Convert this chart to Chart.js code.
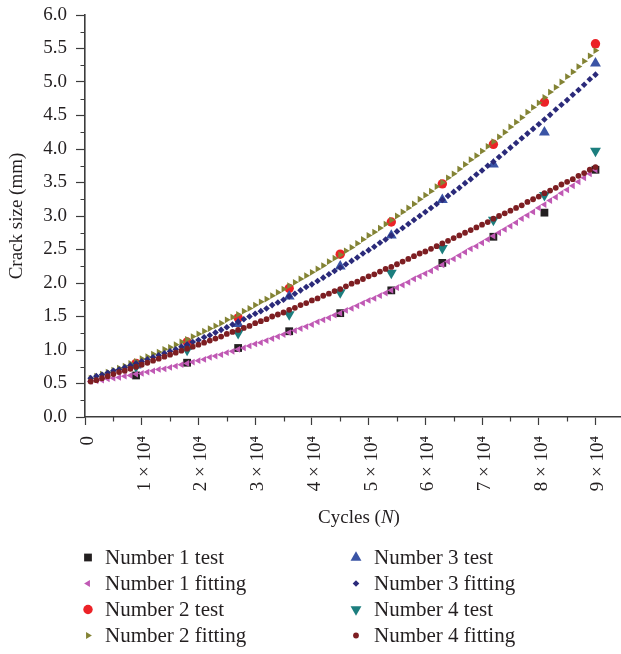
<!DOCTYPE html>
<html>
<head>
<meta charset="utf-8">
<script src="https://cdn.jsdelivr.net/npm/chart.js@4.4.1/dist/chart.umd.min.js"></script>
<style>
  html, body { margin: 0; padding: 0; background: #ffffff; }
  canvas { display: block; }
</style>
</head>
<body>
<canvas id="crackChart" width="621" height="654"></canvas>
<script>
// Cycles at which crack size was measured
const testCycles = [9000, 18000, 27000, 36000, 45000, 54000, 63000, 72000, 81000, 90000];

// Cycles of the fitted crack-growth curves
const fitCycles = [
  1000, 2000, 3000, 4000, 5000, 6000, 7000, 8000, 9000, 10000,
  11000, 12000, 13000, 14000, 15000, 16000, 17000, 18000, 19000, 20000,
  21000, 22000, 23000, 24000, 25000, 26000, 27000, 28000, 29000, 30000,
  31000, 32000, 33000, 34000, 35000, 36000, 37000, 38000, 39000, 40000,
  41000, 42000, 43000, 44000, 45000, 46000, 47000, 48000, 49000, 50000,
  51000, 52000, 53000, 54000, 55000, 56000, 57000, 58000, 59000, 60000,
  61000, 62000, 63000, 64000, 65000, 66000, 67000, 68000, 69000, 70000,
  71000, 72000, 73000, 74000, 75000, 76000, 77000, 78000, 79000, 80000,
  81000, 82000, 83000, 84000, 85000, 86000, 87000, 88000, 89000, 90000
];

// Measured crack size (mm)
const n1Test = [0.62, 0.81, 1.03, 1.28, 1.55, 1.89, 2.30, 2.69, 3.05, 3.69];
const n2Test = [0.80, 1.12, 1.48, 1.92, 2.43, 2.91, 3.48, 4.07, 4.70, 5.57];
const n3Test = [0.77, 1.05, 1.39, 1.80, 2.25, 2.71, 3.24, 3.77, 4.25, 5.28];
const n4Test = [0.75, 1.00, 1.25, 1.53, 1.86, 2.15, 2.52, 2.94, 3.31, 3.97];

// Fitted crack size (mm)
const n1Fit = [
  0.53, 0.54, 0.55, 0.57, 0.58, 0.59, 0.61, 0.62, 0.64, 0.65,
  0.67, 0.69, 0.71, 0.72, 0.74, 0.76, 0.78, 0.80, 0.82, 0.84,
  0.86, 0.89, 0.91, 0.93, 0.96, 0.98, 1.01, 1.03, 1.06, 1.09,
  1.11, 1.14, 1.17, 1.20, 1.23, 1.26, 1.29, 1.32, 1.35, 1.38,
  1.42, 1.45, 1.48, 1.52, 1.55, 1.59, 1.62, 1.66, 1.70, 1.74,
  1.77, 1.81, 1.85, 1.89, 1.93, 1.97, 2.01, 2.06, 2.10, 2.14,
  2.18, 2.23, 2.27, 2.32, 2.36, 2.41, 2.46, 2.51, 2.55, 2.60,
  2.65, 2.70, 2.75, 2.80, 2.85, 2.90, 2.96, 3.01, 3.06, 3.12,
  3.17, 3.23, 3.28, 3.34, 3.39, 3.45, 3.51, 3.57, 3.63, 3.69
];
const n2Fit = [
  0.58, 0.61, 0.64, 0.67, 0.70, 0.73, 0.76, 0.80, 0.83, 0.87,
  0.90, 0.94, 0.97, 1.01, 1.04, 1.08, 1.12, 1.16, 1.20, 1.24,
  1.28, 1.32, 1.36, 1.40, 1.45, 1.49, 1.53, 1.58, 1.62, 1.67,
  1.72, 1.76, 1.81, 1.86, 1.91, 1.96, 2.01, 2.06, 2.11, 2.16,
  2.21, 2.26, 2.32, 2.37, 2.42, 2.48, 2.53, 2.59, 2.65, 2.71,
  2.76, 2.82, 2.88, 2.94, 3.00, 3.06, 3.12, 3.18, 3.25, 3.31,
  3.37, 3.44, 3.50, 3.57, 3.63, 3.70, 3.77, 3.84, 3.90, 3.97,
  4.04, 4.11, 4.18, 4.25, 4.33, 4.40, 4.47, 4.55, 4.62, 4.69,
  4.77, 4.85, 4.92, 5.00, 5.08, 5.15, 5.23, 5.31, 5.39, 5.47
];
const n3Fit = [
  0.58, 0.61, 0.63, 0.66, 0.69, 0.71, 0.74, 0.77, 0.80, 0.83,
  0.86, 0.89, 0.92, 0.95, 0.98, 1.01, 1.05, 1.08, 1.12, 1.15,
  1.19, 1.22, 1.26, 1.30, 1.34, 1.38, 1.42, 1.46, 1.50, 1.54,
  1.58, 1.62, 1.67, 1.71, 1.75, 1.80, 1.84, 1.89, 1.94, 1.98,
  2.03, 2.08, 2.13, 2.18, 2.23, 2.28, 2.33, 2.38, 2.44, 2.49,
  2.54, 2.60, 2.65, 2.71, 2.77, 2.82, 2.88, 2.94, 3.00, 3.06,
  3.12, 3.18, 3.24, 3.30, 3.36, 3.42, 3.49, 3.55, 3.62, 3.68,
  3.75, 3.81, 3.88, 3.95, 4.02, 4.09, 4.16, 4.23, 4.30, 4.37,
  4.44, 4.51, 4.59, 4.66, 4.73, 4.81, 4.88, 4.96, 5.04, 5.11
];
const n4Fit = [
  0.53, 0.55, 0.58, 0.61, 0.64, 0.67, 0.69, 0.72, 0.75, 0.78,
  0.81, 0.84, 0.87, 0.90, 0.93, 0.96, 0.99, 1.02, 1.05, 1.08,
  1.11, 1.14, 1.17, 1.20, 1.24, 1.27, 1.30, 1.33, 1.36, 1.40,
  1.43, 1.46, 1.50, 1.53, 1.56, 1.60, 1.63, 1.67, 1.70, 1.74,
  1.77, 1.81, 1.84, 1.88, 1.91, 1.95, 1.99, 2.02, 2.06, 2.10,
  2.13, 2.17, 2.21, 2.24, 2.28, 2.32, 2.36, 2.40, 2.44, 2.47,
  2.51, 2.55, 2.59, 2.63, 2.67, 2.71, 2.75, 2.79, 2.83, 2.87,
  2.91, 2.96, 3.00, 3.04, 3.08, 3.12, 3.16, 3.21, 3.25, 3.29,
  3.34, 3.38, 3.42, 3.47, 3.51, 3.55, 3.60, 3.64, 3.69, 3.73
];

// Axis ticks
const xTickValues = [0, 10000, 20000, 30000, 40000, 50000, 60000, 70000, 80000, 90000];
const xTickLabels = ['0', '1 × 10⁴', '2 × 10⁴', '3 × 10⁴', '4 × 10⁴', '5 × 10⁴', '6 × 10⁴', '7 × 10⁴', '8 × 10⁴', '9 × 10⁴'];

const SERIF = "'Liberation Serif', 'Times New Roman', 'DejaVu Serif', serif";
const INK = '#231f20';
const AXIS = '#3c3c3c';

// Marker styles; the legend is laid out in two columns of four
const series = [
  { label: 'Number 1 test',    x: testCycles, y: n1Test, color: '#231f20', style: 'rect',     r: 5.5, rot: 0,   col: 0, row: 0, z: 8 },
  { label: 'Number 1 fitting', x: fitCycles,  y: n1Fit,  color: '#c059b4', style: 'triangle', r: 3.9, rot: -90, col: 0, row: 1, z: 2 },
  { label: 'Number 2 test',    x: testCycles, y: n2Test, color: '#ec2227', style: 'circle',   r: 4.7, rot: 0,   col: 0, row: 2, z: 6 },
  { label: 'Number 2 fitting', x: fitCycles,  y: n2Fit,  color: '#838334', style: 'triangle', r: 3.9, rot: 90,  col: 0, row: 3, z: 3 },
  { label: 'Number 3 test',    x: testCycles, y: n3Test, color: '#3a54a5', style: 'triangle', r: 6.3, rot: 0,   col: 1, row: 0, z: 5 },
  { label: 'Number 3 fitting', x: fitCycles,  y: n3Fit,  color: '#2b2a7a', style: 'rectRot',  r: 3.3, rot: 0,   col: 1, row: 1, z: 1 },
  { label: 'Number 4 test',    x: testCycles, y: n4Test, color: '#1c7e7e', style: 'triangle', r: 6.3, rot: 180, col: 1, row: 2, z: 4 },
  { label: 'Number 4 fitting', x: fitCycles,  y: n4Fit,  color: '#7d1e22', style: 'circle',   r: 2.9, rot: 0,   col: 1, row: 3, z: 0 }
];

const datasets = series.map(s => ({
  label: s.label,
  data: s.x.map((c, i) => ({ x: c, y: s.y[i] })),
  showLine: false,
  pointStyle: s.style,
  pointRadius: s.r,
  pointRotation: s.rot,
  pointBackgroundColor: s.color,
  pointBorderColor: s.color,
  pointBorderWidth: 0,
  pointHoverRadius: s.r,
  order: s.z
}));

function drawMarker(ctx, s, x, y) {
  ctx.fillStyle = s.color;
  ctx.beginPath();
  if (s.style === 'circle') {
    ctx.arc(x, y, s.r, 0, Math.PI * 2);
  } else if (s.style === 'rect') {
    const h = Math.SQRT1_2 * s.r;
    ctx.rect(x - h, y - h, 2 * h, 2 * h);
  } else if (s.style === 'rectRot') {
    ctx.moveTo(x, y - s.r); ctx.lineTo(x + s.r, y); ctx.lineTo(x, y + s.r); ctx.lineTo(x - s.r, y);
    ctx.closePath();
  } else {
    let a = s.rot * Math.PI / 180;
    for (let k = 0; k < 3; k++) {
      const px = x + Math.sin(a) * s.r, py = y - Math.cos(a) * s.r;
      if (k === 0) ctx.moveTo(px, py); else ctx.lineTo(px, py);
      a += Math.PI * 2 / 3;
    }
    ctx.closePath();
  }
  ctx.fill();
}

// Minor ticks, x-axis title with italic N, and the two-column legend
const decorations = {
  id: 'decorations',
  afterDraw(chart) {
    const { ctx } = chart;
    const xs = chart.scales.x, ys = chart.scales.y;
    ctx.save();
    ctx.strokeStyle = AXIS;
    ctx.lineWidth = 1.2;
    ctx.beginPath();
    for (let v = 5000; v < xs.max; v += 10000) {
      const px = Math.round(xs.getPixelForValue(v)) + 0.5;
      ctx.moveTo(px, xs.top); ctx.lineTo(px, xs.top + 4.5);
    }
    for (let v = 0.25; v < ys.max; v += 0.5) {
      const py = Math.round(ys.getPixelForValue(v)) + 0.5;
      ctx.moveTo(ys.right - 4.5, py); ctx.lineTo(ys.right, py);
    }
    ctx.stroke();

    // x-axis title
    const normal = `19px ${SERIF}`, italic = `italic 19px ${SERIF}`;
    ctx.fillStyle = INK;
    ctx.textBaseline = 'alphabetic';
    ctx.textAlign = 'left';
    const parts = [['Cycles (', normal], ['N', italic], [')', normal]];
    let total = 0;
    parts.forEach(p => { ctx.font = p[1]; total += ctx.measureText(p[0]).width; });
    let tx = 359 - total / 2;
    parts.forEach(p => { ctx.font = p[1]; ctx.fillText(p[0], tx, 523); tx += ctx.measureText(p[0]).width; });

    // legend
    const colMarkerX = [88, 356], colTextX = [105, 374];
    ctx.font = `21px ${SERIF}`;
    series.forEach(s => {
      const base = 564 + s.row * 26;
      drawMarker(ctx, s, colMarkerX[s.col], base - 6.5);
      ctx.fillStyle = INK;
      ctx.fillText(s.label, colTextX[s.col], base);
    });
    ctx.restore();
  }
};

new Chart(document.getElementById('crackChart'), {
  type: 'scatter',
  data: { datasets },
  plugins: [decorations],
  options: {
    responsive: false,
    animation: false,
    devicePixelRatio: 1,
    layout: { autoPadding: false, padding: { top: 15, right: 0, bottom: 0, left: 0 } },
    plugins: { legend: { display: false }, tooltip: { enabled: false } },
    scales: {
      x: {
        type: 'linear',
        min: 0,
        max: 94500,
        afterFit(scale) {
          scale.height = 237;
          scale.paddingLeft = 0;
          scale.paddingRight = 0;
        },
        afterBuildTicks(scale) { scale.ticks = xTickValues.map(v => ({ value: v })); },
        ticks: {
          autoSkip: false,
          minRotation: 90,
          maxRotation: 90,
          padding: 11,
          labelOffset: 3,
          color: INK,
          font: { family: SERIF, size: 19 },
          callback: (value) => xTickLabels[xTickValues.indexOf(value)]
        },
        grid: { drawOnChartArea: false, tickLength: 8, tickColor: AXIS, tickWidth: 1.2 },
        border: { color: AXIS, width: 1.6 }
      },
      y: {
        min: 0,
        max: 6,
        afterFit(scale) {
          scale.width = 85;
          scale.paddingTop = 0;
          scale.paddingBottom = 0;
        },
        ticks: {
          stepSize: 0.5,
          padding: 9,
          color: INK,
          font: { family: SERIF, size: 19 },
          callback: (value) => value.toFixed(1)
        },
        grid: { drawOnChartArea: false, tickLength: 9, tickColor: AXIS, tickWidth: 1.2 },
        border: { color: AXIS, width: 1.6 },
        title: {
          display: true,
          text: 'Crack size (mm)',
          color: INK,
          font: { family: SERIF, size: 19 },
          padding: { top: 6, bottom: 0 }
        }
      }
    }
  }
});
</script>
</body>
</html>
